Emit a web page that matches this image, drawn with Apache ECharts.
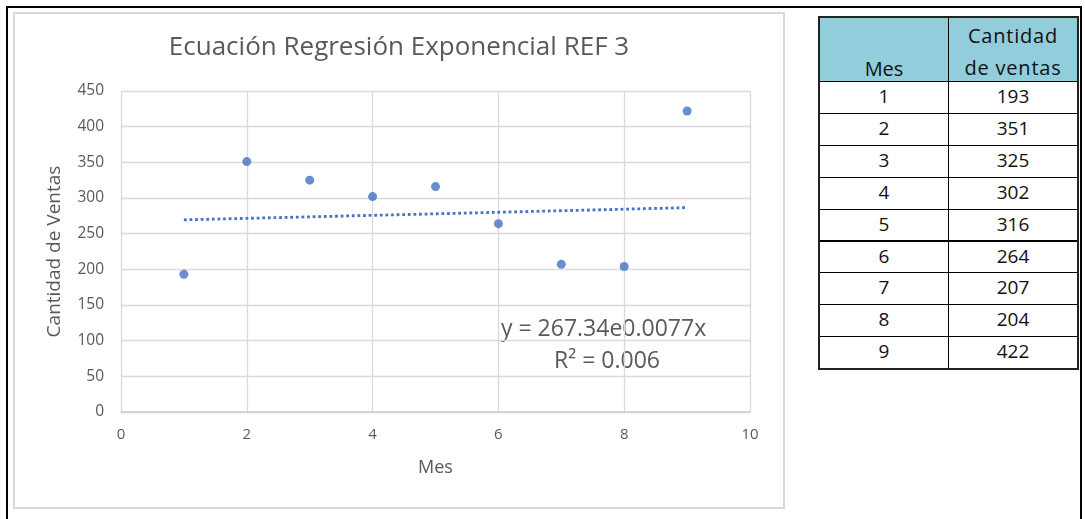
<!DOCTYPE html>
<html>
<head>
<meta charset="utf-8">
<script src="https://cdn.jsdelivr.net/npm/echarts@6/dist/echarts.min.js"></script>
<style>
  html, body { margin: 0; padding: 0; background: #fff; width: 1085px; height: 519px; overflow: hidden; }
  #frame { position: absolute; left: 6px; top: 6px; width: 1072px; height: 530px; border: 2px solid #000; border-bottom: none; }
  #chartBox { position: absolute; left: 13px; top: 12px; width: 768px; height: 493px; border: 2px solid #d9d9d9; background: #fff; }
  #chart { position: absolute; left: 0; top: 0; width: 768px; height: 493px; }
  #tbl { position: absolute; left: 819px; top: 17px; font-family: "Open Sans", Lato, sans-serif; color: #111; }
  .cell { position: absolute; box-sizing: border-box; text-align: center; font-size: 19px; }
</style>
</head>
<body>
<div id="frame"></div>
<div id="chartBox"><div id="chart"></div></div>
<div id="tbl"></div>
<script>
// ---- data ----
const meses = [1, 2, 3, 4, 5, 6, 7, 8, 9];
const ventas = [193, 351, 325, 302, 316, 264, 207, 204, 422];
// exponential trendline values (y = 267.34e0.0077x)
const trendX = [1, 2, 3, 4, 5, 6, 7, 8, 9];
const trendY = [269.4, 271.5, 273.6, 275.7, 277.8, 280.0, 282.2, 284.3, 286.5];
const xTicks = ['0', '2', '4', '6', '8', '10'];
const yTicks = ['0', '50', '100', '150', '200', '250', '300', '350', '400', '450'];
const tableHeader = ['Mes', 'Cantidad\nde ventas'];
const chartTitle = 'Ecuación Regresión Exponencial REF 3';
const eqText = 'y = 267.34e0.0077x';
const r2Text = 'R² = 0.006';

// ---- table ----
(function buildTable() {
  const tbl = document.getElementById('tbl');
  const colW = [129, 129];
  const headH = 64, rowH = 31.9;
  const add = (x, y, w, h, html, css) => {
    const d = document.createElement('div');
    d.className = 'cell';
    d.style.left = x + 'px'; d.style.top = y + 'px';
    d.style.width = w + 'px'; d.style.height = h + 'px';
    Object.assign(d.style, css || {});
    d.innerHTML = html;
    tbl.appendChild(d);
  };
  const total = headH + rowH * meses.length;
  add(0, 0, colW[0] + 1, headH + 1, '<div style="position:absolute;top:35px;width:100%;line-height:32px;font-size:20px">' + tableHeader[0] + '</div>',
      { background: '#92cddc', border: '1px solid #000' });
  add(colW[0], 0, colW[1] + 1, headH + 1, '<div style="position:absolute;top:2px;width:100%;line-height:32px;font-size:20px;letter-spacing:0.8px">' + tableHeader[1].replace('\n', '<br>') + '</div>',
      { background: '#92cddc', border: '1px solid #000' });
  meses.forEach((m, i) => {
    const y = headH + rowH * i;
    add(0, y, colW[0] + 1, rowH + 1, String(m), { border: '1px solid #000', lineHeight: (rowH - 2) + 'px' });
    add(colW[0], y, colW[1] + 1, rowH + 1, String(ventas[i]), { border: '1px solid #000', lineHeight: (rowH - 2) + 'px' });
  });
  add(-1, -1, colW[0] + colW[1] + 3, total + 3, '', { border: '2px solid #222', background: 'transparent' });
})();

// ---- chart ----
const chart = echarts.init(document.getElementById('chart'), null, { renderer: 'canvas' });
const FONT = '"Open Sans", Lato, sans-serif';
const grey = '#595959';
chart.setOption({
  animation: false,
  textStyle: { fontFamily: FONT },
  title: {
    text: chartTitle,
    left: 'center',
    top: 16,
    textStyle: { fontFamily: FONT, fontSize: 26, fontWeight: 'normal', color: grey }
  },
  grid: { left: 106, top: 77, width: 629, height: 321, containLabel: false },
  xAxis: {
    type: 'value', min: 0, max: 10, interval: 2,
    name: 'Mes', nameLocation: 'middle', nameGap: 47,
    nameTextStyle: { fontFamily: FONT, fontSize: 18, color: grey },
    axisLine: { show: true, lineStyle: { color: '#d0d0d0', width: 1.5 } },
    axisTick: { show: false },
    axisLabel: { color: grey, fontSize: 15, margin: 15, formatter: v => xTicks[xTicks.indexOf(String(v))] },
    splitLine: { show: true, lineStyle: { color: '#dadada', width: 1.3 } }
  },
  yAxis: {
    type: 'value', min: 0, max: 450, interval: 50,
    name: 'Cantidad de Ventas', nameLocation: 'middle', nameGap: 57, nameRotate: 90,
    nameTextStyle: { fontFamily: FONT, fontSize: 19, color: grey },
    axisLine: { show: false },
    axisTick: { show: false },
    axisLabel: { color: grey, fontSize: 15.5, margin: 17, formatter: v => yTicks[yTicks.indexOf(String(v))] },
    splitLine: { show: true, lineStyle: { color: '#dadada', width: 1.3 } }
  },
  graphic: [
    { type: 'text', left: 486, top: 304, style: { text: eqText, fontFamily: FONT, fontSize: 23, fill: grey } },
    { type: 'text', left: 539, top: 336, style: { text: r2Text, fontFamily: FONT, fontSize: 23, fill: grey } }
  ],
  series: [
    {
      type: 'line',
      data: trendX.map((x, i) => [x, trendY[i]]),
      showSymbol: false,
      lineStyle: { color: '#4472c4', width: 2.8, type: [2.8, 2.8], cap: 'butt' },
      z: 2
    },
    {
      type: 'scatter',
      data: meses.map((m, i) => [m, ventas[i]]),
      symbol: 'circle', symbolSize: 9,
      itemStyle: { color: '#4472c4' },
      z: 3
    }
  ]
});
</script>
</body>
</html>
